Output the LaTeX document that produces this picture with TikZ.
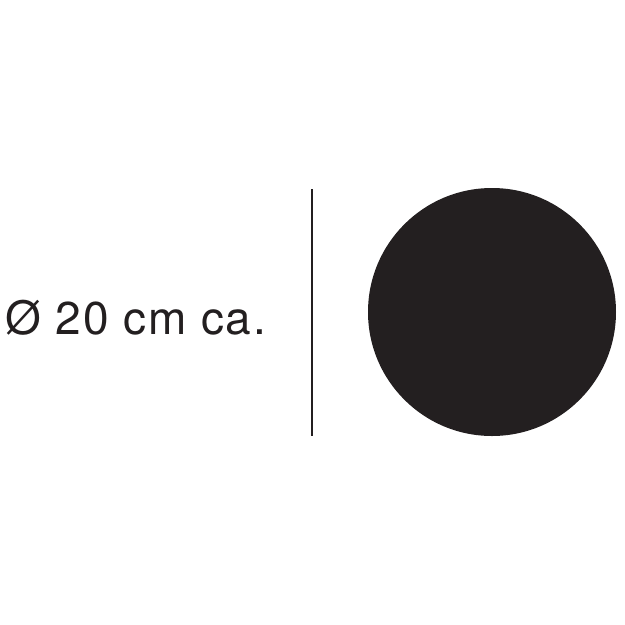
\documentclass[tikz,border=0pt]{standalone}
\usepackage{fontspec}
\setmainfont{TeX Gyre Heros}
\newfontfamily\labelfont[LetterSpace=4]{TeX Gyre Heros}
\definecolor{lampblack}{HTML}{231F20}

\begin{document}
\begin{tikzpicture}[x=1pt,y=-1pt]
  \tikzstyle{every node}+=[inner sep=0pt]
  \useasboundingbox (0,0) rectangle (625,625);
  \draw (5,334) node [anchor=base west, text=lampblack, font=\labelfont\fontsize{46}{46}\selectfont] (size) {Ø 20 cm ca.};
  \coordinate (top) at (312,189);
  \coordinate (bot) at (312,436);
  \draw [lampblack, line width=2pt] (top) -- (bot);
  \draw (492,312) node [circle, fill=lampblack, minimum size=248pt] (lamp) {};
\end{tikzpicture}
\end{document}
